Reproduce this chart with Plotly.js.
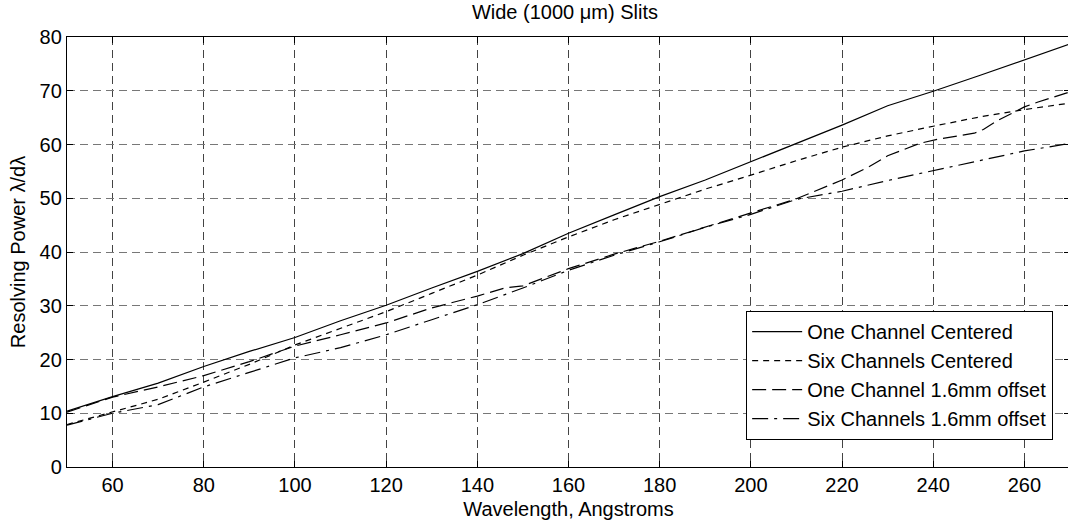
<!DOCTYPE html>
<html>
<head>
<meta charset="utf-8">
<script src="https://cdn.plot.ly/plotly-3.0.1.min.js"></script>
<style>
html,body{margin:0;padding:0;background:#fff;overflow:hidden;width:1068px;height:525px;}
#chart{width:1072px;height:525px;}
</style>
</head>
<body>
<div id="chart"></div>
<script>
// Wavelength grid (Angstroms)
var wavelength = [50,60,70,80,90,100,110,120,130,140,150,160,170,180,190,200,210,220,230,240,250,260,270];

// One Channel Centered
var oneCentered = [10.4,13.1,15.6,18.7,21.5,24.1,27.2,30.1,33.3,36.4,39.7,43.5,46.9,50.3,53.4,56.8,60.2,63.6,67.2,69.9,72.8,75.7,78.7];

// Six Channels Centered
var sixCentered = [7.9,10.3,12.6,15.8,19.1,22.7,25.8,28.9,32.3,35.7,39.4,42.8,46.0,48.9,51.7,54.3,57.0,59.5,61.6,63.4,65.1,66.5,67.7];

// One Channel 1.6mm offset
var oneOffsetX = [50,60,70,80,90,100,110,120,130,140,146,150,160,170,180,190,200,210,220,226,230,237,241,249,251,254,260,263,270];
var oneOffset  = [10.2,13.0,14.9,17.0,19.6,22.5,24.6,26.8,29.6,31.8,33.3,33.7,36.9,39.6,42.0,44.6,47.3,49.9,53.4,55.9,57.9,60.2,61.0,62.1,62.8,64.4,67.0,67.9,69.8];

// Six Channels 1.6mm offset
var sixOffsetX = wavelength;
var sixOffset  = [7.8,10.0,11.6,14.9,17.6,20.3,22.2,24.6,27.4,30.2,33.3,36.6,39.4,41.9,44.6,47.0,49.8,51.3,53.3,55.1,57.0,58.8,60.2];

var seriesNames = ["One Channel Centered","Six Channels Centered","One Channel 1.6mm offset","Six Channels 1.6mm offset"];

var xTicks = [60,80,100,120,140,160,180,200,220,240,260];
var yTicks = [0,10,20,30,40,50,60,70,80];

var FONT = "Liberation Sans, Arial, Helvetica, sans-serif";
var FS = 20;

var traces = [
  {x: wavelength, y: oneCentered, name: seriesNames[0], mode: "lines",
   line: {color: "#000", width: 1.2, dash: "solid"}},
  {x: wavelength, y: sixCentered, name: seriesNames[1], mode: "lines",
   line: {color: "#000", width: 1.2, dash: "6px,5px"}},
  {x: oneOffsetX, y: oneOffset, name: seriesNames[2], mode: "lines",
   line: {color: "#000", width: 1.2, dash: "14px,6px"}},
  {x: sixOffsetX, y: sixOffset, name: seriesNames[3], mode: "lines",
   line: {color: "#000", width: 1.2, dash: "16px,6px,3px,6px"}}
];

var layout = {
  width: 1072, height: 525,
  margin: {l: 67, r: 2, t: 37, b: 58},
  paper_bgcolor: "#fff", plot_bgcolor: "#fff",
  showlegend: true,
  font: {family: FONT, size: FS, color: "#000"},
  title: {text: "Wide (1000 \u03bcm) Slits", font: {family: FONT, size: FS, color: "#000"},
          x: 0.527, xref: "container", xanchor: "center", y: 0.978, yref: "container", yanchor: "middle"},
  xaxis: {
    range: [50, 270], tickvals: xTicks, ticktext: xTicks.map(String),
    showline: true, linecolor: "#000", linewidth: 1.2, mirror: "ticks",
    ticks: "inside", ticklen: 6, tickcolor: "#000",
    showgrid: true, gridcolor: "#444", gridwidth: 1, griddash: "8px,5px",
    zeroline: false, tickfont: {family: FONT, size: FS, color: "#000"},
    title: {text: "Wavelength, Angstroms", font: {family: FONT, size: FS, color: "#000"}, standoff: 6}
  },
  yaxis: {
    range: [0, 80], tickvals: yTicks, ticktext: yTicks.map(String),
    showline: true, linecolor: "#000", linewidth: 1.2, mirror: "ticks",
    ticks: "inside", ticklen: 6, tickcolor: "#000",
    showgrid: true, gridcolor: "#777", gridwidth: 1, griddash: "8px,5px",
    zeroline: false, tickfont: {family: FONT, size: FS, color: "#000"},
    title: {text: "Resolving Power \u03bb/d\u03bb", font: {family: FONT, size: FS, color: "#000"}, standoff: 8}
  },
  legend: {
    x: 0.983, xanchor: "right", y: 0.063, yanchor: "bottom",
    bgcolor: "#fff", bordercolor: "#000", borderwidth: 1.2,
    font: {family: FONT, size: FS, color: "#000"},
    itemwidth: 50, tracegroupgap: 0
  }
};

Plotly.newPlot("chart", traces, layout, {displayModeBar: false, staticPlot: true});
</script>
</body>
</html>
